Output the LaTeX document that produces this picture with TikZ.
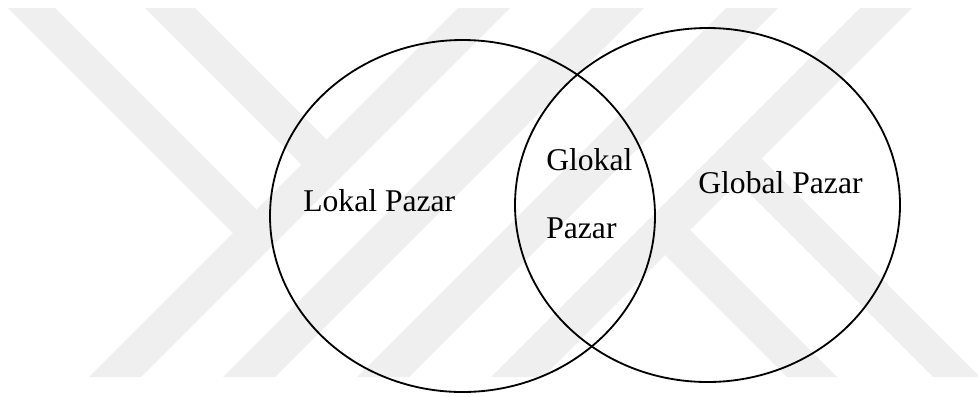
\documentclass[tikz,border=0pt]{standalone}
\usepackage{fontspec}
\setmainfont{Liberation Serif}

\definecolor{wmgray}{RGB}{239,239,239}

\tikzset{
  band/.style={fill=wmgray, draw=none},
  set/.style={draw=black, line width=1.3pt},
  lbl/.style={anchor=base west, inner sep=0pt, font=\fontsize{22.5}{27}\selectfont},
}

\begin{document}
\begin{tikzpicture}[x=0.025cm,y=-0.025cm]
\useasboundingbox (0,0) rectangle (978,396);

% light stripes in the background
\begin{scope}
\clip (0,8) rectangle (978,377);
\foreach \k in {466,600,734,868}
  \fill[band] (\k-377,377) -- (\k-325,377) -- (\k+44,8) -- (\k-8,8) -- cycle;
\fill[band] (8,8) -- (55,8) -- (269.5,222.5) -- (246,246) -- cycle;
\fill[band] (145,8) -- (195,8) -- (339.5,152.5) -- (314.5,177.5) -- cycle;
\fill[band] (652,242) -- (677,217) -- (837,377) -- (787,377) -- cycle;
\fill[band] (725,169) -- (748.5,145.5) -- (980,377) -- (933,377) -- cycle;
\end{scope}

% the two markets
\draw[set] (462.5,216) ellipse [x radius=192.5, y radius=176];
\draw[set] (707.5,205) ellipse [x radius=192.5, y radius=177];

\node[lbl] (lokal) at (303,211) {Lokal Pazar};
\node[lbl] (glokal) at (546,170) {Glokal};
\node[lbl] (glokalpazar) at (546,238) {Pazar};
\node[lbl] (global) at (698,193) {Global Pazar};

\end{tikzpicture}
\end{document}
